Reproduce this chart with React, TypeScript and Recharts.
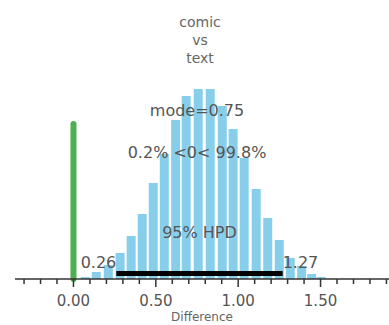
import React from "react";
import { ComposedChart, Bar, XAxis, YAxis, ReferenceLine, ReferenceDot } from "recharts";

// posterior sample histogram (bin centre, height)
const binCenters = [
  0.073, 0.14, 0.213, 0.285, 0.352, 0.419, 0.486, 0.553, 0.622, 0.686, 0.759,
  0.832, 0.905, 0.971, 1.038, 1.111, 1.181, 1.251, 1.318, 1.387, 1.448, 1.506,
];
const binHeights = [
  2, 7, 14, 26, 43, 65, 96, 125, 159, 183, 190,
  190, 173, 150, 121, 90, 61, 39, 21, 13, 5, 2,
];

const titleLines = ["comic", "vs", "text"];
const modeValue = 0.75;
const pctBelow = "0.2%";
const pctAbove = "99.8%";
const compValue = 0;
const compHeight = 155;
const hpdLow = 0.26;
const hpdHigh = 1.27;

const tickValues = [
  -0.3, -0.2, -0.1, 0, 0.1, 0.2, 0.3, 0.4, 0.5, 0.6, 0.7, 0.8, 0.9, 1, 1.1,
  1.2, 1.3, 1.4, 1.5, 1.6, 1.7, 1.8, 1.9,
];
const majorTicks = [0, 0.5, 1, 1.5];
const majorLabels = ["0.00", "0.50", "1.00", "1.50"];

const data = binCenters.map((x, i) => ({ x, h: binHeights[i] }));

const FONT = "DejaVu Sans, sans-serif";
const TEXT = "#555";

function AxisTick(props: any) {
  const { x, y, payload } = props;
  const idx = majorTicks.findIndex((m) => Math.abs(m - payload.value) < 1e-9);
  const major = idx >= 0;
  return (
    <g>
      <line x1={x} x2={x} y1={y} y2={y + (major ? 8 : 5)} stroke="#333" strokeWidth={1.5} />
      {major && (
        <text x={x} y={y + 27} textAnchor="middle" fontSize={15} fontFamily={FONT} fill={TEXT}>
          {majorLabels[idx]}
        </text>
      )}
    </g>
  );
}

const annoStyle = { fontSize: 16, fontFamily: FONT, fill: TEXT };

export default function App() {
  return (
    <div style={{ position: "absolute", left: 0, top: 0, width: 389, height: 325, background: "#fff" }}>
      <ComposedChart
        width={389}
        height={325}
        data={data}
        margin={{ top: 79, right: 0, bottom: 0, left: 15 }}
      >
        <XAxis
          dataKey="x"
          type="number"
          domain={[-0.355, 1.9156]}
          allowDataOverflow
          ticks={tickValues}
          interval={0}
          tick={<AxisTick />}
          tickLine={false}
          tickSize={0}
          tickMargin={0}
          height={46}
          axisLine={{ stroke: "#333", strokeWidth: 1.5 }}
          label={{ value: "Difference", position: "insideBottom", offset: 4, fontSize: 12, fontFamily: FONT, fill: "#666" }}
        />
        <YAxis hide domain={[0, 200]} allowDataOverflow />
        <Bar dataKey="h" fill="#87CEEB" barSize={9} isAnimationActive={false} />
        <ReferenceLine
          segment={[{ x: compValue, y: 0 }, { x: compValue, y: compHeight }]}
          stroke="#4CAF50"
          strokeWidth={6}
          strokeLinecap="round"
        />
        <ReferenceLine
          segment={[{ x: hpdLow, y: 5.5 }, { x: hpdHigh, y: 5.5 }]}
          stroke="#000"
          strokeWidth={5}
        />
        <ReferenceDot x={hpdLow} y={17} r={0} label={{ value: "0.26", position: "left", offset: 0, ...annoStyle }} />
        <ReferenceDot x={hpdHigh} y={17} r={0} label={{ value: "1.27", position: "right", offset: 0, ...annoStyle }} />
        <ReferenceDot
          x={(hpdLow + hpdHigh) / 2}
          y={47}
          r={0}
          label={{ value: "95% HPD", position: "center", ...annoStyle }}
        />
        <ReferenceDot
          x={modeValue}
          y={169}
          r={0}
          label={{ value: `mode=${modeValue}`, position: "center", ...annoStyle }}
        />
        <ReferenceDot
          x={modeValue}
          y={127}
          r={0}
          label={{ value: `${pctBelow} <${compValue}< ${pctAbove}`, position: "center", ...annoStyle }}
        />
        {titleLines.map((t, i) => (
          <text key={t} x={200} y={27 + i * 18} textAnchor="middle" fontSize={14} fontFamily={FONT} fill="#666">
            {t}
          </text>
        ))}
      </ComposedChart>
    </div>
  );
}
